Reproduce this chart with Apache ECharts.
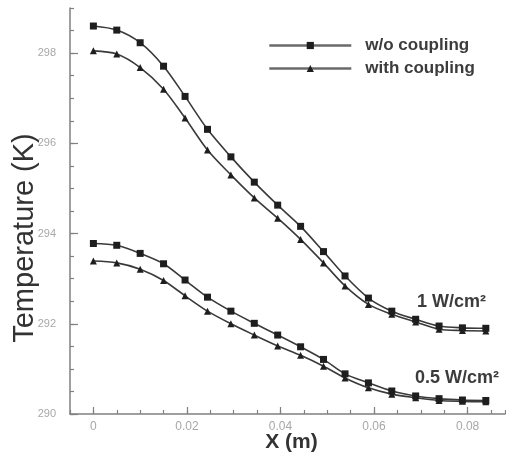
<!DOCTYPE html>
<html>
<head>
<meta charset="utf-8">
<script src="https://cdn.jsdelivr.net/npm/echarts@6/dist/echarts.min.js"></script>
<style>html,body{margin:0;padding:0;background:#fff}#c{width:506px;height:454px}</style>
</head>
<body>
<div id="c"></div>
<script>
// X positions (m)
const xVals = [0, 0.005, 0.010, 0.015, 0.0196, 0.0244, 0.0294, 0.0344, 0.0394, 0.0443, 0.0492, 0.0538, 0.0588, 0.0638, 0.0689, 0.0739, 0.0789, 0.0839];
// 1 W/cm2
const hiWithout = [298.60, 298.51, 298.23, 297.71, 297.04, 296.31, 295.70, 295.14, 294.63, 294.16, 293.60, 293.06, 292.57, 292.28, 292.10, 291.95, 291.91, 291.90];
const hiWith    = [298.05, 297.98, 297.68, 297.20, 296.56, 295.85, 295.30, 294.79, 294.34, 293.87, 293.35, 292.84, 292.43, 292.21, 292.04, 291.88, 291.85, 291.84];
// 0.5 W/cm2
const loWithout = [293.78, 293.74, 293.56, 293.33, 292.97, 292.59, 292.28, 292.01, 291.75, 291.49, 291.21, 290.89, 290.69, 290.51, 290.40, 290.34, 290.31, 290.30];
const loWith    = [293.39, 293.35, 293.21, 292.96, 292.62, 292.28, 292.00, 291.75, 291.51, 291.30, 291.06, 290.80, 290.58, 290.44, 290.36, 290.30, 290.28, 290.27];
const xTickLabels = [0, 0.02, 0.04, 0.06, 0.08];
const yTickLabels = [290, 292, 294, 296, 298];
const seriesNames = ['w/o coupling', 'with coupling'];
const curveLabels = ['1 W/cm²', '0.5 W/cm²'];

const pair = (ys) => xVals.map((x, i) => [x, ys[i]]);
const gridRect = { left: 70, top: 8, width: 435, height: 406, containLabel: false, outerBoundsMode: 'none' };
const axisCol = '#808080';
const labCol = '#a8a8a8';
const font = 'Liberation Sans, Arial, sans-serif';
const xRange = { min: -0.005, max: 0.088 };
const yRange = { min: 290, max: 299 };

function mkSeries(name, ys, sym, size) {
  return {
    name: name, type: 'line', data: pair(ys), smooth: 0.3,
    symbol: sym, symbolSize: size, showSymbol: true,
    lineStyle: { color: '#3a3a3a', width: 1.6 },
    itemStyle: { color: '#1e1e1e' },
    emphasis: { disabled: true }, z: 3
  };
}

const chart = echarts.init(document.getElementById('c'), null, { renderer: 'canvas' });
chart.setOption({
  animation: false,
  backgroundColor: '#fff',
  grid: [Object.assign({}, gridRect), Object.assign({}, gridRect)],
  legend: {
    data: seriesNames, orient: 'vertical', left: 263, top: 32,
    itemWidth: 82, itemHeight: 9, itemGap: 6,
    lineStyle: { width: 2.6, color: '#6a6a6a' },
    itemStyle: { color: '#1e1e1e' },
    textStyle: { fontFamily: font, fontSize: 17, fontWeight: 'bold', color: '#3c3c3c', padding: [0, 0, 0, 9] },
    selectedMode: false
  },
  xAxis: [{
    gridIndex: 0, type: 'value', min: xRange.min, max: xRange.max, interval: 0.005,
    name: 'X (m)', nameLocation: 'middle', nameGap: 18, nameMoveOverlap: false,
    nameTextStyle: { fontFamily: font, fontSize: 21, fontWeight: 'bold', color: '#333', padding: [0, 0, 0, 8] },
    axisLine: { show: true, onZero: false, lineStyle: { color: axisCol, width: 1.5 } },
    axisTick: { show: true, inside: true, length: 4, lineStyle: { color: axisCol, width: 1.2 } },
    axisLabel: {
      margin: 7, fontFamily: font, fontSize: 12, color: labCol,
      formatter: (v) => xTickLabels.some(t => Math.abs(t - v) < 1e-7) ? String(+v.toFixed(2)) : ''
    },
    splitLine: { show: false }
  }, {
    gridIndex: 1, type: 'value', min: xRange.min, max: xRange.max, position: 'bottom',
    axisLine: { show: false, onZero: false },
    axisTick: { show: true, inside: true, length: 7, customValues: xTickLabels, lineStyle: { color: axisCol, width: 1.2 } },
    axisLabel: { show: false },
    splitLine: { show: false }
  }],
  yAxis: [{
    gridIndex: 0, type: 'value', min: yRange.min, max: yRange.max, interval: 0.5,
    name: 'Temperature (K)', nameLocation: 'middle', nameGap: 31, nameRotate: 90, nameMoveOverlap: false,
    nameTextStyle: { fontFamily: font, fontSize: 29, color: '#333', padding: [0, 54, 0, 0] },
    axisLine: { show: true, onZero: false, lineStyle: { color: axisCol, width: 1.5 } },
    axisTick: { show: true, inside: true, length: 4, lineStyle: { color: axisCol, width: 1.2 } },
    axisLabel: {
      margin: 14, fontFamily: font, fontSize: 11, color: labCol,
      formatter: (v) => yTickLabels.some(t => Math.abs(t - v) < 1e-7) ? String(v) : ''
    },
    splitLine: { show: false }
  }, {
    gridIndex: 1, type: 'value', min: yRange.min, max: yRange.max, position: 'left',
    axisLine: { show: false, onZero: false },
    axisTick: { show: true, inside: true, length: 8, customValues: yTickLabels, lineStyle: { color: axisCol, width: 1.2 } },
    axisLabel: { show: false },
    splitLine: { show: false }
  }],
  graphic: [
    { type: 'text', left: 417, top: 293, style: { text: curveLabels[0], font: 'bold 18px Liberation Sans, Arial, sans-serif', fill: '#3c3c3c' } },
    { type: 'text', left: 415, top: 369, style: { text: curveLabels[1], font: 'bold 18px Liberation Sans, Arial, sans-serif', fill: '#3c3c3c' } }
  ],
  series: [
    mkSeries(seriesNames[0], hiWithout, 'rect', 7),
    mkSeries(seriesNames[1], hiWith, 'triangle', 7),
    mkSeries(seriesNames[0], loWithout, 'rect', 7),
    mkSeries(seriesNames[1], loWith, 'triangle', 7)
  ]
});
</script>
</body>
</html>
